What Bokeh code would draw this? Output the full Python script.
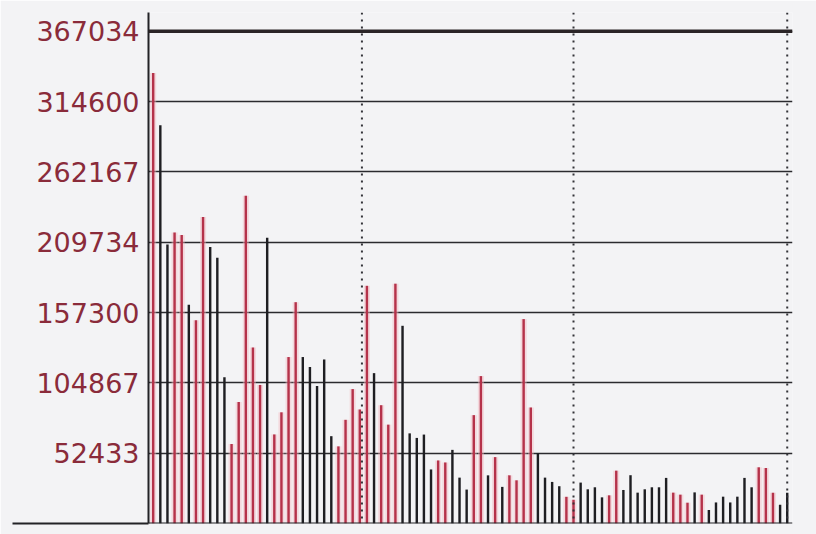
from bokeh.plotting import figure
from bokeh.models import Range1d, FixedTicker, Span
from bokeh.embed import file_html
from bokeh.resources import INLINE

# ---- data ----
tick_values = [52433, 104867, 157300, 209734, 262167, 314600, 367034]
tick_labels = ["52433", "104867", "157300", "209734", "262167", "314600", "367034"]

volumes = [
    335800, 296900, 208000, 216900, 215100, 163000, 151600, 228600, 206200, 198100,
    109100, 59300, 90600, 244300, 131200, 103300, 213000, 66400, 82900, 124100,
    165000, 124100, 116700, 102500, 122300, 65100, 57500, 77300, 100200, 85000,
    177200, 112100, 88200, 73700, 178800, 147400, 67200, 63800, 66300, 40300,
    47000, 45500, 54900, 34200, 25300, 80800, 109900, 35900, 49500, 27300,
    35900, 32200, 152400, 86500, 52400, 34200, 31000, 27800, 19900, 17700,
    30500, 25500, 27000, 19500, 21000, 39400, 25000, 36000, 23000, 25500,
    27000, 27000, 34000, 23000, 21500, 15500, 23200, 21500, 10000, 15700,
    20000, 15700, 20000, 34000, 27000, 41900, 41400, 23000, 14000, 23000,
]
up_down = (
    "rkkrrkrrkk" "krrrrrkrrr" "rkkkkkrrrr"
    "rkrrrkkkkk" "rrkkkrrkrk" "rrrrkkkkrr"
    "kkkkrrkkkk" "kkkrrrkrkk" "kkkkkrrrkk"
)
separators = [29.3, 59.0, 89.0]

RED = "#b5324a"
BLACK = "#1e1e22"
idx = list(range(len(volumes)))
colors = [RED if c == "r" else BLACK for c in up_down]
red_x = [i for i in idx if up_down[i] == "r"]
red_top = [volumes[i] for i in red_x]

p = figure(width=816, height=534, output_backend="svg", toolbar_location=None,
           x_range=Range1d(-0.66, 89.74), y_range=Range1d(0, 380975),
           min_border_left=148, min_border_right=24, min_border_top=12,
           min_border_bottom=11)
p.xaxis.visible = False
p.xgrid.visible = False
p.outline_line_color = None
p.background_fill_color = "#f3f3f5"
p.border_fill_color = "#f3f3f5"

ticker = FixedTicker(ticks=tick_values, minor_ticks=[0])
ax = p.yaxis[0]
ax.ticker = ticker
ax.major_label_overrides = {v: s for v, s in zip(tick_values, tick_labels)}
ax.major_label_text_font = "DejaVu Sans"
ax.major_label_text_font_size = "27px"
ax.major_label_text_color = "#8a2b3a"
ax.major_tick_out = 0
ax.major_tick_in = 0
# minor tick at 0 extends the base line to the left of the axis
ax.minor_tick_out = 136
ax.minor_tick_in = 0
ax.major_label_standoff = -127
ax.minor_tick_line_width = 2
ax.minor_tick_line_color = "#222226"
ax.axis_line_width = 2
ax.axis_line_color = "#222226"

p.ygrid.ticker = ticker
p.ygrid.grid_line_color = "#2a2a2e"
p.ygrid.grid_line_width = 1.6
p.ygrid.minor_grid_line_color = None

p.add_layout(Span(location=tick_values[-1], dimension="width",
                  line_color="#2a2426", line_width=3.5))
p.add_layout(Span(location=0, dimension="width", line_color="#222226", line_width=2))
for s in separators:
    p.add_layout(Span(location=s, dimension="height", line_color="#333338",
                      line_width=2, line_dash="2 5"))

# pink halo of the red bars (photo blur)
p.vbar(x=red_x, top=red_top, width=0.85, fill_color="#f4b9c2", fill_alpha=0.45,
       line_color=None)
p.vbar(x=idx, top=volumes, width=0.34, fill_color=colors, line_color=None)

open("out.html", "w").write(file_html(p, INLINE))
